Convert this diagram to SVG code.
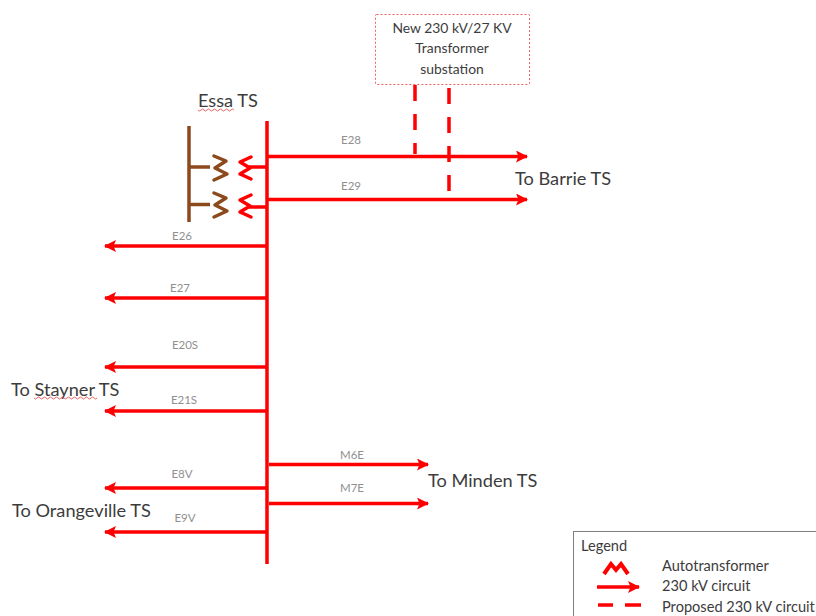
<svg xmlns="http://www.w3.org/2000/svg" width="816" height="616" viewBox="0 0 816 616">
<style>
text{font-family:"Lato","Open Sans","Liberation Sans",sans-serif;fill:#3c3c3c}
.l{font-size:18.200px}
.s{font-size:13.900px}
.g{font-size:14.600px}
.c{font-size:11.500px;fill:#8f8f8f;text-anchor:middle}
.r{stroke:#ff0000;stroke-width:3.500;fill:none}
.d{stroke:#ff0000;stroke-width:3.500;fill:none;stroke-dasharray:16 13}
.b{stroke:#8c4a1c;stroke-width:3.500;fill:none}
.k{stroke-linejoin:round;stroke-linecap:round}
.w{stroke:#e04040;stroke-width:.8;fill:none}
</style>
<defs>
<marker id="a" viewBox="0 0 12 12" refX="11" refY="6" markerWidth="12" markerHeight="12" markerUnits="userSpaceOnUse" orient="auto"><path d="M0 0L12 6L0 12L2.500 6Z" fill="#ff0000"/></marker>
</defs>
<rect width="816" height="616" fill="#fff"/>
<g id="connectors">
<path class="r" d="M267 121V564"/>
<path class="r" marker-end="url(#a)" d="M267 156.500H527"/>
<path class="r" marker-end="url(#a)" d="M267 199.500H527"/>
<path class="r" marker-end="url(#a)" d="M267 246H105"/>
<path class="r" marker-end="url(#a)" d="M267 298H105"/>
<path class="r" marker-end="url(#a)" d="M267 367H105"/>
<path class="r" marker-end="url(#a)" d="M267 411H105"/>
<path class="r" marker-end="url(#a)" d="M267 488H105"/>
<path class="r" marker-end="url(#a)" d="M267 532H105"/>
<path class="r" marker-end="url(#a)" d="M269 464.500H428"/>
<path class="r" marker-end="url(#a)" d="M269 503.500H428"/>
<path class="d" d="M415 85V154"/>
<path class="d" d="M449 88V192"/>
</g>
<g id="autotransformers">
<path class="b" d="M189 126V222M189 167H210M189 204.500H210"/>
<path class="b k" d="M214 156L226 161L215 168L227 174L214 180"/>
<path class="b k" d="M214 193L226 198L215 205L227 211L214 217"/>
<path class="r" d="M267 167H249"/>
<path class="r" d="M267 207H249"/>
<path class="r k" d="M251 157L240 162L250 168L240 174L251 179"/>
<path class="r k" d="M251 195L240 200L250 206L240 212L251 217"/>
</g>
<g id="substation">
<rect x="375.500" y="14.500" width="154" height="70" rx="1" fill="#fff" stroke="#f06060" stroke-width="1" stroke-dasharray="2 2"/>
<text class="s" x="452" y="33" text-anchor="middle">New 230 kV/27 KV</text>
<text class="s" x="452" y="53" text-anchor="middle">Transformer</text>
<text class="s" x="452" y="74" text-anchor="middle">substation</text>
</g>
<g id="essa">
<text class="l" x="198" y="107">Essa TS</text>
<path class="w" d="M198 110q1.500 2 3 0t3 0t3 0t3 0t3 0t3 0t3 0t3 0t3 0t3 0t3 0t3 0"/>
</g>
<g id="labels">
<text class="c" x="351" y="144">E28</text>
<text class="c" x="351" y="190">E29</text>
<text class="c" x="182" y="240">E26</text>
<text class="c" x="180" y="292">E27</text>
<text class="c" x="185" y="349">E20S</text>
<text class="c" x="184" y="404">E21S</text>
<text class="c" x="182" y="478">E8V</text>
<text class="c" x="185" y="522">E9V</text>
<text class="c" x="352" y="459">M6E</text>
<text class="c" x="352" y="492">M7E</text>
<text class="l" x="515" y="185">To Barrie TS</text>
<text class="l" x="428" y="487">To Minden TS</text>
<text class="l" x="11" y="396">To Stayner TS</text>
<path class="w" d="M34 398q1.500 2 3 0t3 0t3 0t3 0t3 0t3 0t3 0t3 0t3 0t3 0t3 0t3 0t3 0t3 0t3 0t3 0t3 0t3 0t3 0t3 0t3 0"/>
<text class="l" x="12" y="517">To Orangeville TS</text>
</g>
<g id="legend">
<rect x="573.500" y="531.500" width="260" height="100" fill="#fff" stroke="#7f7f7f" stroke-width="1"/>
<text class="g" x="581" y="551">Legend</text>
<path d="M604 574L611 564L616 570L621 564L628 574" fill="none" stroke="#ff0000" stroke-width="4"/>
<path class="r" marker-end="url(#a)" d="M597 587H639"/>
<path class="r" d="M598 605H613M625 605H641"/>
<text class="g" x="662" y="571">Autotransformer</text>
<text class="g" x="662" y="591">230 kV circuit</text>
<text class="g" x="662" y="612">Proposed 230 kV circuit</text>
</g>
</svg>
